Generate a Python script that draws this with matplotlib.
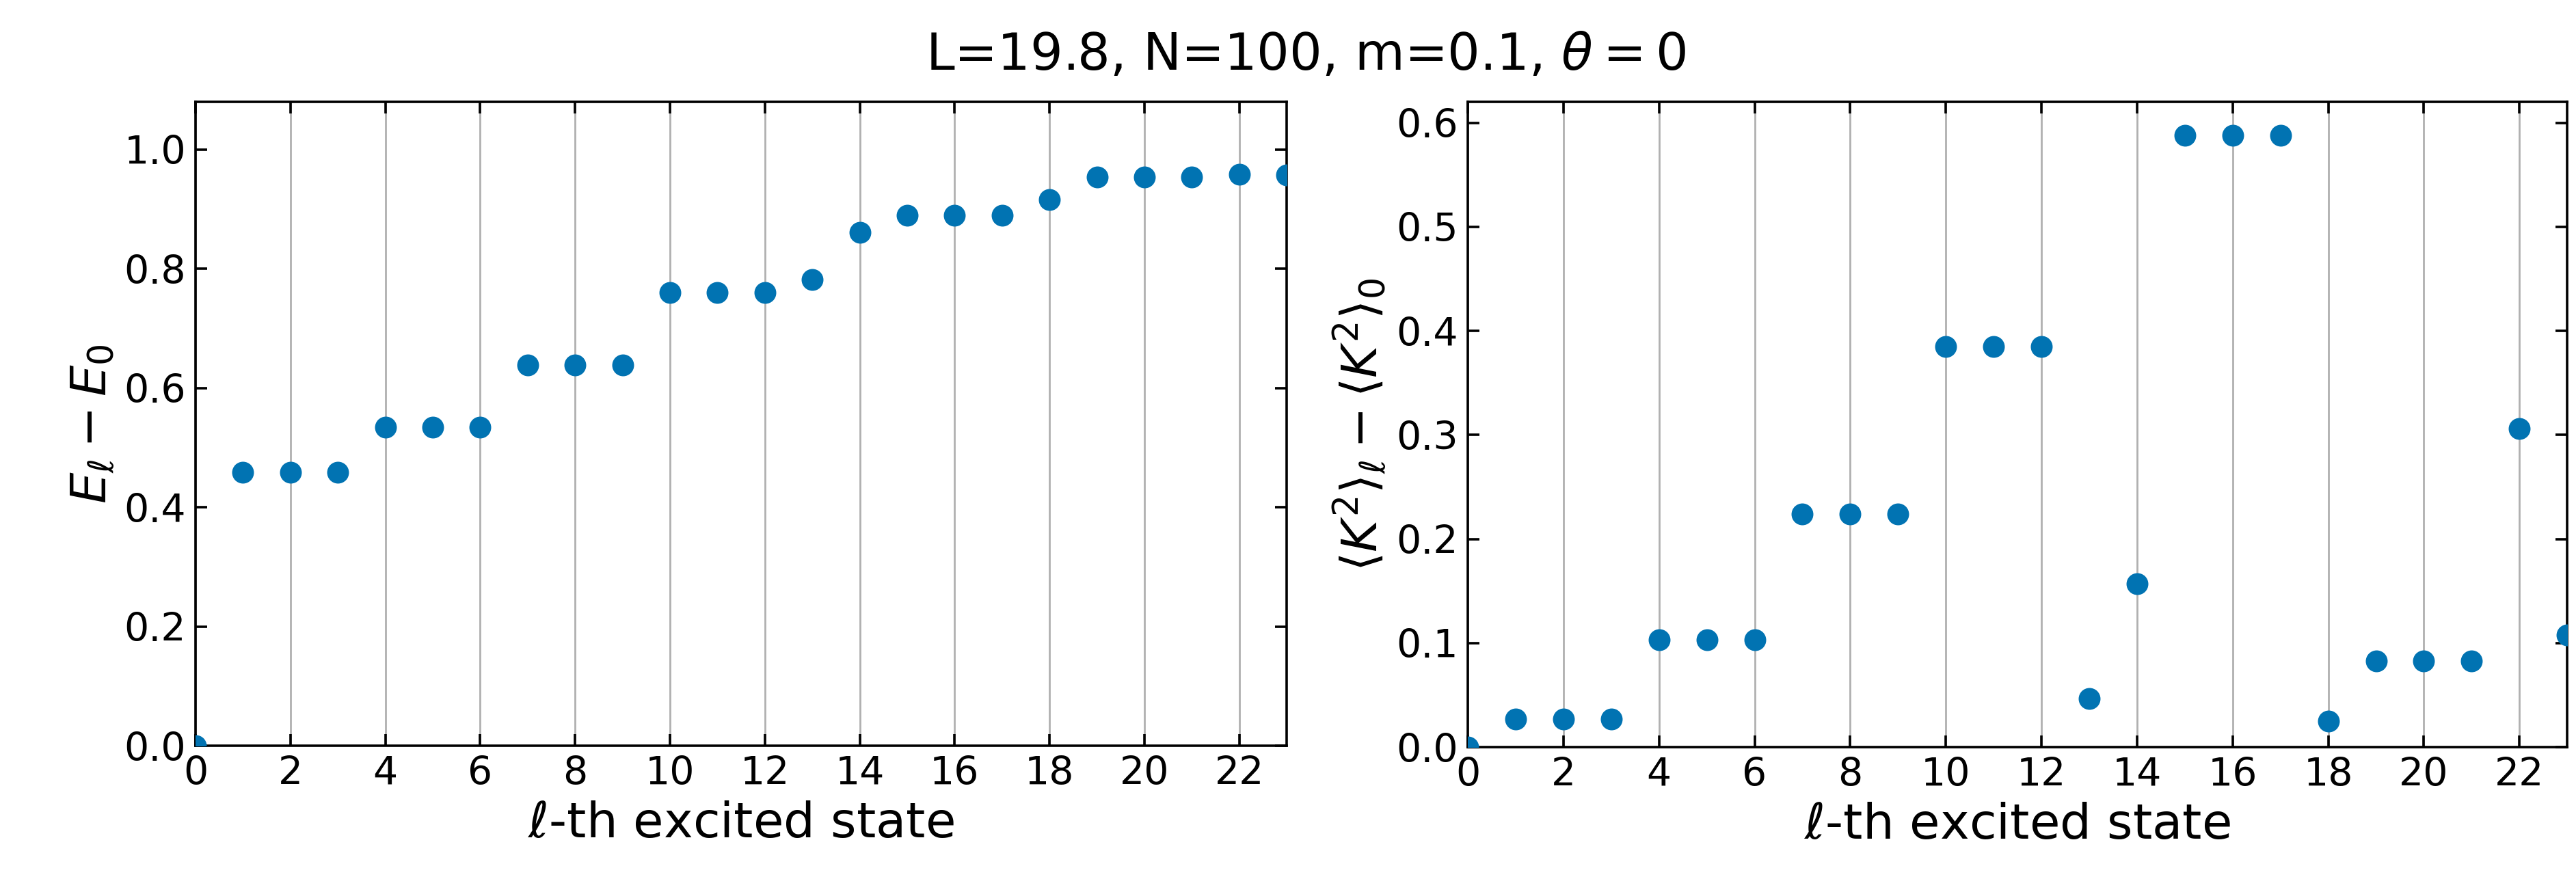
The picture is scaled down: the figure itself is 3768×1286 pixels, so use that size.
import numpy as np
import matplotlib.pyplot as plt

# excitation index and the two measured quantities
states = np.arange(24)
energy_gap = [0.0, 0.459, 0.459, 0.459, 0.534, 0.534, 0.534, 0.639, 0.639, 0.639,
              0.760, 0.760, 0.760, 0.782, 0.861, 0.890, 0.890, 0.890, 0.916,
              0.954, 0.954, 0.954, 0.958, 0.957]
k2_shift = [0.0, 0.027, 0.027, 0.027, 0.103, 0.103, 0.103, 0.224, 0.224, 0.224,
            0.385, 0.385, 0.385, 0.047, 0.157, 0.588, 0.588, 0.588, 0.025,
            0.083, 0.083, 0.083, 0.306, 0.108]

title = r'L=19.8, N=100, m=0.1, $\theta=0$'
ylabels = [r'$E_\ell - E_0$', r'$\langle K^2\rangle_\ell - \langle K^2\rangle_0$']
ylims = [(0, 1.08), (0, 0.62)]

plt.rcParams['font.family'] = 'DejaVu Sans'
plt.rcParams['mathtext.fontset'] = 'dejavusans'

fig = plt.figure(figsize=(18.84, 6.43), dpi=200)
ax1 = fig.add_axes([0.0759, 0.1516, 0.4236, 0.7325])
ax2 = fig.add_axes([0.5698, 0.1500, 0.4268, 0.7340])

for ax, vals, lab, lim in zip([ax1, ax2], [energy_gap, k2_shift], ylabels, ylims):
    ax.plot(states, vals, 'o', color='#0173b2', markersize=10.5, zorder=3)
    ax.set_xlim(0, 23)
    ax.set_ylim(*lim)
    ax.set_xticks(np.arange(0, 23, 2))
    ax.grid(axis='x', color='#b0b0b0', linewidth=1.0)
    ax.tick_params(direction='in', top=True, right=True, length=6, width=1.3,
                   labelsize=20.5, pad=5)
    for s in ax.spines.values():
        s.set_linewidth(1.3)
    ax.set_xlabel(r'$\ell$-th excited state', fontsize=26)
    ax.set_ylabel(lab, fontsize=26)

ax1.set_yticks([0.0, 0.2, 0.4, 0.6, 0.8, 1.0])
ax2.set_yticks([0.0, 0.1, 0.2, 0.3, 0.4, 0.5, 0.6])

fig.suptitle(title, fontsize=27, x=0.507, y=0.965)

plt.savefig('out.png', dpi=200)
